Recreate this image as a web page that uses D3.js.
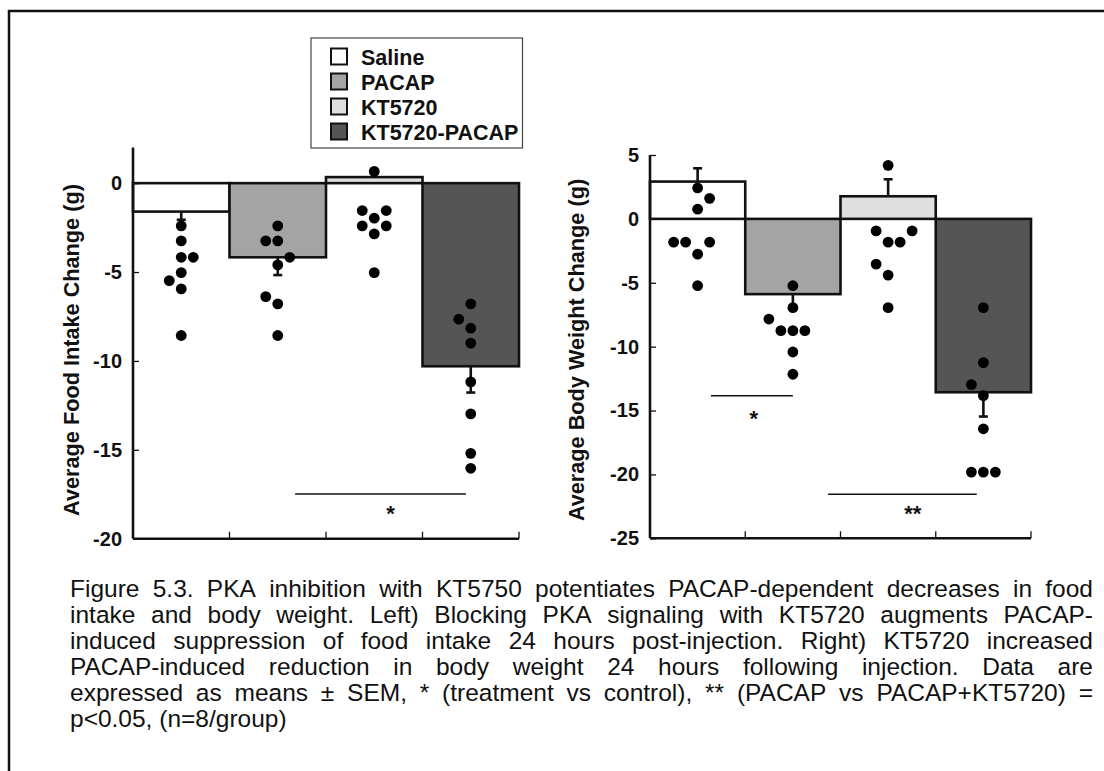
<!DOCTYPE html>
<html><head><meta charset="utf-8">
<script src="https://cdn.jsdelivr.net/npm/d3@7"></script>
<style>body{margin:0;background:#fff}svg{display:block}text{font-family:"Liberation Sans",Arial,sans-serif}</style>
</head><body>
<svg id="c" width="1104" height="771"></svg>
<script>
// ---------- data ----------
const categories = ["Saline", "PACAP", "KT5720", "KT5720-PACAP"];
const fills = ["#ffffff", "#a4a4a4", "#dedfde", "#555556"];

const foodMeans = [-1.6, -4.17, 0.34, -10.3];
const foodSEM = [0.46, 1.0, 0.3, 1.48];
const foodDots = [
  [-2.4, -3.25, -4.17, -4.17, -5.03, -5.48, -5.95, -8.57],
  [-2.4, -3.25, -3.25, -4.17, -4.6, -6.38, -6.79, -8.57],
  [0.66, -1.54, -1.54, -1.97, -2.4, -2.4, -2.85, -5.03],
  [-6.79, -7.65, -8.16, -9.0, -11.18, -12.98, -15.2, -16.04]
];
const foodDotCols = [
  [0, 0, 0, 1, 0, -1, 0, 0],
  [0, -1, 0, 1, 0, -1, 0, 0],
  [0, -1, 1, 0, -1, 1, 0, 0],
  [0, -1, 0, 0, 0, 0, 0, 0]
];
const foodTicks = [-20, -15, -10, -5, 0];

const weightMeans = [2.92, -5.89, 1.77, -13.57];
const weightSEM = [1.04, 1.0, 1.33, 1.9];
const weightDots = [
  [2.42, 1.61, 0.76, -1.82, -1.82, -1.82, -2.76, -5.23],
  [-5.23, -6.95, -7.84, -8.75, -8.75, -8.75, -10.42, -12.16],
  [4.19, -0.94, -0.94, -1.82, -1.82, -3.54, -4.4, -6.95],
  [-6.95, -11.25, -12.97, -13.83, -16.43, -19.82, -19.82, -19.82]
];
const weightDotCols = [
  [0, 1, 0, -2, -1, 1, 0, 0],
  [0, 0, -2, -1, 0, 1, 0, 0],
  [0, -1, 2, 0, 1, -1, 0, 0],
  [0, 0, -1, 0, 0, -1, 0, 1]
];
const weightTicks = [-25, -20, -15, -10, -5, 0, 5];

// significance bars: [fromBand, toBand, yLine, starBand, starY, label]
const foodSig = [[1.68, 3.45, -17.48, 2.67, -19.0, "*"]];
const weightSig = [[0.64, 1.5, -13.85, 1.09, -16.2, "*"], [1.87, 3.43, -21.56, 2.76, -23.65, "**"]];

const captionLines = [
  "Figure 5.3. PKA inhibition with KT5750 potentiates PACAP-dependent decreases in food",
  "intake and body weight. Left) Blocking PKA signaling with KT5720 augments PACAP-",
  "induced suppression of food intake 24 hours post-injection. Right) KT5720 increased",
  "PACAP-induced reduction in body weight 24 hours following injection. Data are",
  "expressed as means \u00b1 SEM, * (treatment vs control), ** (PACAP vs PACAP+KT5720) =",
  "p<0.05, (n=8/group)"
];

// ---------- drawing ----------
const svg = d3.select("#c");

// outer frame (top & left visible)
svg.append("rect").attr("x", 9).attr("y", 11).attr("width", 1200).attr("height", 900)
  .attr("fill", "none").attr("stroke", "#111").attr("stroke-width", 2.5);

function panel(cfg) {
  const g = svg.append("g");
  const x = d3.scaleBand().domain(categories).range(cfg.xr).padding(0);
  const y = d3.scaleLinear().domain(cfg.yd).range(cfg.yr);
  const bw = x.bandwidth();
  const bandPos = b => cfg.xr[0] + b * bw;

  // bars
  g.selectAll("rect.bar").data(categories).join("rect")
    .attr("x", d => x(d)).attr("width", bw)
    .attr("y", (d, i) => y(Math.max(0, cfg.means[i])))
    .attr("height", (d, i) => Math.abs(y(cfg.means[i]) - y(0)))
    .attr("fill", (d, i) => fills[i]).attr("stroke", "#111").attr("stroke-width", 2.6);

  // error bars
  categories.forEach((c, i) => {
    const m = cfg.means[i], e = cfg.sem[i];
    const end = m >= 0 ? m + e : m - e;
    const cx = x(c) + bw / 2;
    g.append("line").attr("x1", cx).attr("x2", cx).attr("y1", y(m)).attr("y2", y(end))
      .attr("stroke", "#111").attr("stroke-width", 2.6);
    g.append("line").attr("x1", cx - 4.5).attr("x2", cx + 4.5).attr("y1", y(end)).attr("y2", y(end))
      .attr("stroke", "#111").attr("stroke-width", 2.6);
  });

  // dots
  categories.forEach((c, i) => {
    const cx = x(c) + bw / 2;
    cfg.dots[i].forEach((v, j) => {
      g.append("circle").attr("cx", cx + cfg.cols[i][j] * 12).attr("cy", y(v)).attr("r", 5.4).attr("fill", "#000");
    });
  });

  // y axis
  const ya = d3.axisLeft(y).tickValues(cfg.ticks).tickSize(-6).tickPadding(11).tickFormat(d => String(d));
  const yg = g.append("g").attr("transform", `translate(${cfg.xr[0]},0)`).call(ya);
  yg.select(".domain").attr("stroke", "#111").attr("stroke-width", 2.6).attr("d", `M0,${cfg.yr[1]}V${cfg.yr[0]}`);
  yg.selectAll(".tick line").attr("stroke", "#111").attr("stroke-width", 1.3);
  yg.selectAll(".tick text").attr("font-size", 20).attr("font-weight", "bold").attr("fill", "#111")
    .attr("font-family", '"Liberation Sans",Arial,sans-serif');

  // x axis with ticks at band boundaries
  const xb = cfg.yr[0];
  g.append("line").attr("x1", cfg.xr[0]).attr("x2", cfg.xr[1]).attr("y1", xb).attr("y2", xb)
    .attr("stroke", "#111").attr("stroke-width", 2.6);
  categories.forEach(c => {
    const tx = x(c) + bw;
    g.append("line").attr("x1", tx).attr("x2", tx).attr("y1", xb).attr("y2", xb - 7)
      .attr("stroke", "#111").attr("stroke-width", 1.3);
  });

  // axis title
  g.append("text").attr("transform", `translate(${cfg.titleX},${cfg.titleY}) rotate(-90)`)
    .attr("text-anchor", "middle").attr("font-size", 21.7).attr("font-weight", "bold").attr("fill", "#111")
    .text(cfg.title);

  // significance
  cfg.sig.forEach(s => {
    g.append("line").attr("x1", bandPos(s[0])).attr("x2", bandPos(s[1])).attr("y1", y(s[2])).attr("y2", y(s[2]))
      .attr("stroke", "#111").attr("stroke-width", 1.5);
    g.append("text").attr("x", bandPos(s[3])).attr("y", y(s[4])).attr("text-anchor", "middle")
      .attr("font-size", 22).attr("font-weight", "bold").attr("fill", "#111").text(s[5]);
  });
}

panel({xr: [133, 519], yd: [-20, 2], yr: [538.7, 147.6], means: foodMeans, sem: foodSEM,
  dots: foodDots, cols: foodDotCols, ticks: foodTicks, title: "Average Food Intake Change (g)",
  titleX: 79, titleY: 350, sig: foodSig});
panel({xr: [650, 1031], yd: [-25, 5], yr: [538.3, 155], means: weightMeans, sem: weightSEM,
  dots: weightDots, cols: weightDotCols, ticks: weightTicks, title: "Average Body Weight Change (g)",
  titleX: 584, titleY: 350, sig: weightSig});

// legend
const lg = svg.append("g");
lg.append("rect").attr("x", 311).attr("y", 38).attr("width", 211.5).attr("height", 110)
  .attr("fill", "#fff").attr("stroke", "#444").attr("stroke-width", 1.2);
categories.forEach((c, i) => {
  const cy = 56.5 + i * 25;
  lg.append("rect").attr("x", 331).attr("y", cy - 8).attr("width", 16).attr("height", 16)
    .attr("fill", fills[i]).attr("stroke", "#111").attr("stroke-width", 2);
  lg.append("text").attr("x", 361).attr("y", cy + 8).attr("font-size", 21.5).attr("font-weight", "bold")
    .attr("fill", "#111").text(c);
});

// caption (justified)
const capX0 = 70, capX1 = 1093, capY0 = 597, capDy = 26;
const cap = svg.append("g").attr("font-size", 24.5).attr("fill", "#111");
captionLines.forEach((line, li) => {
  const words = line.split(" ");
  const yv = capY0 + li * capDy;
  const nodes = words.map(w => cap.append("text").attr("y", yv).text(w));
  const widths = nodes.map(n => n.node().getComputedTextLength());
  const total = d3.sum(widths);
  const justify = li < captionLines.length - 1;
  const gap = justify ? (capX1 - capX0 - total) / (words.length - 1) : 6.8;
  let xx = capX0;
  nodes.forEach((n, k) => { n.attr("x", xx); xx += widths[k] + gap; });
});
</script>
</body></html>
